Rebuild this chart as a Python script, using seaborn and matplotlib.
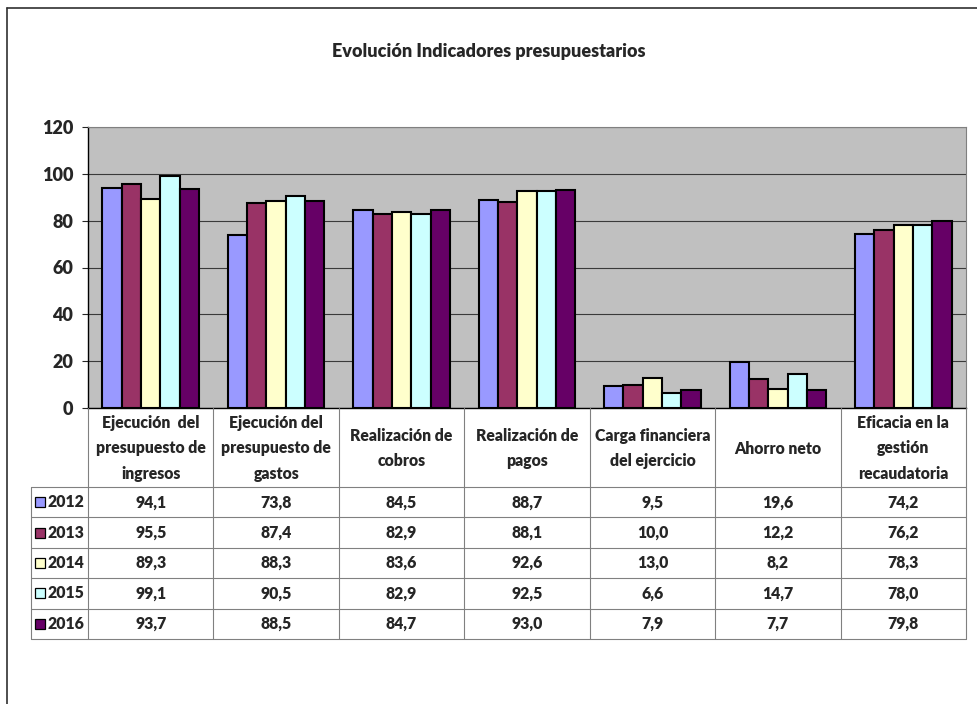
import pandas as pd
import matplotlib
matplotlib.use("Agg")
import matplotlib.pyplot as plt
from matplotlib.lines import Line2D
from matplotlib.patches import Rectangle
import seaborn as sns

# Chart data
categories = [
    "Ejecución  del\npresupuesto de\ningresos",
    "Ejecución del\npresupuesto de\ngastos",
    "Realización de\ncobros",
    "Realización de\npagos",
    "Carga financiera\ndel ejercicio",
    "Ahorro neto",
    "Eficacia en la\ngestión\nrecaudatoria",
]
years = ["2012", "2013", "2014", "2015", "2016"]
values_2012 = [94.1, 73.8, 84.5, 88.7, 9.5, 19.6, 74.2]
values_2013 = [95.5, 87.4, 82.9, 88.1, 10.0, 12.2, 76.2]
values_2014 = [89.3, 88.3, 83.6, 92.6, 13.0, 8.2, 78.3]
values_2015 = [99.1, 90.5, 82.9, 92.5, 6.6, 14.7, 78.0]
values_2016 = [93.7, 88.5, 84.7, 93.0, 7.9, 7.7, 79.8]
colors = ["#9999FF", "#993366", "#FFFFCC", "#CCFFFF", "#660066"]
y_ticks = [0, 20, 40, 60, 80, 100, 120]

series = [values_2012, values_2013, values_2014, values_2015, values_2016]
df = pd.DataFrame([
    {"categoria": c, "anio": y, "valor": v}
    for y, vals in zip(years, series)
    for c, v in zip(categories, vals)
])

sns.set_style("white")
plt.rcParams["font.family"] = ["Lato", "DejaVu Sans"]
FW = "heavy"
FS = 11.3

W, H = 977, 704
fig = plt.figure(figsize=(W / 100, H / 100), dpi=100)

# plot area in pixel coords
x0, x1, ytop, ybot = 88, 966, 127, 408
ax = fig.add_axes([x0 / W, 1 - ybot / H, (x1 - x0) / W, (ybot - ytop) / H])
ax.set_facecolor("#C0C0C0")

sns.barplot(data=df, x="categoria", y="valor", hue="anio", order=categories,
            hue_order=years, palette=colors, width=0.77, edgecolor="black",
            linewidth=1.5, saturation=1, legend=False, ax=ax)

ax.set_ylim(0, 120)
ax.set_xlim(-0.5, len(categories) - 0.5)
ax.set_yticks(y_ticks)
ax.set_yticklabels([str(t) for t in y_ticks], fontsize=13, fontweight=FW)
ax.set_xticks([])
ax.set_xlabel("")
ax.set_ylabel("")
ax.yaxis.grid(True, color="#3a3a3a", linewidth=0.8)
ax.set_axisbelow(True)
ax.tick_params(axis="y", direction="out", length=4.5, width=0.8, pad=6, left=True)
for side in ["top", "right"]:
    ax.spines[side].set_color("#808080")
    ax.spines[side].set_linewidth(0.8)
ax.spines["left"].set_color("black")
ax.spines["bottom"].set_color("black")
ax.spines["left"].set_linewidth(1)
ax.spines["bottom"].set_linewidth(1)

fig.text(0.5, 1 - 52 / H, "Evolución Indicadores presupuestarios",
         ha="center", va="center", fontsize=13, fontweight=FW)

# data table under the chart
def fy(py):
    return 1 - py / H

grid_color = "#808080"
header_bot = 487
row_h = 30.4
n = len(categories)
col_edges = [x0 + i * (x1 - x0) / n for i in range(n + 1)]
table_left = 31
table_bot = header_bot + row_h * len(years)

for xe in col_edges:
    fig.add_artist(Line2D([xe / W, xe / W], [fy(ybot), fy(table_bot)],
                          color=grid_color, linewidth=0.8))
fig.add_artist(Line2D([table_left / W, table_left / W], [fy(header_bot), fy(table_bot)],
                      color=grid_color, linewidth=0.8))
for i in range(len(years) + 1):
    yy = header_bot + i * row_h
    fig.add_artist(Line2D([table_left / W, x1 / W], [fy(yy), fy(yy)],
                          color=grid_color, linewidth=0.8))

# category headers
for i, cat in enumerate(categories):
    cx = (col_edges[i] + col_edges[i + 1]) / 2
    fig.text(cx / W, fy((ybot + header_bot) / 2 + 1), cat, ha="center", va="center",
             fontsize=FS, fontweight=FW, linespacing=1.7)

# rows
for r, (year, vals, col) in enumerate(zip(years, series, colors)):
    cy = header_bot + (r + 0.5) * row_h
    fig.add_artist(Rectangle((35 / W, fy(cy + 5)), 10 / W, 10 / H,
                             facecolor=col, edgecolor="black", linewidth=0.9))
    fig.text(48 / W, fy(cy), year, ha="left", va="center",
             fontsize=FS, fontweight=FW)
    for i, v in enumerate(vals):
        cx = (col_edges[i] + col_edges[i + 1]) / 2
        fig.text(cx / W, fy(cy), f"{v:.1f}".replace(".", ","), ha="center",
                 va="center", fontsize=FS, fontweight=FW)

# outer chart border
fig.add_artist(Line2D([7 / W, 7 / W], [0, fy(8)], color="#303030", linewidth=1.2))
fig.add_artist(Line2D([7 / W, 1], [fy(8), fy(8)], color="#303030", linewidth=1.2))

fig.savefig("out.png", dpi=100)
